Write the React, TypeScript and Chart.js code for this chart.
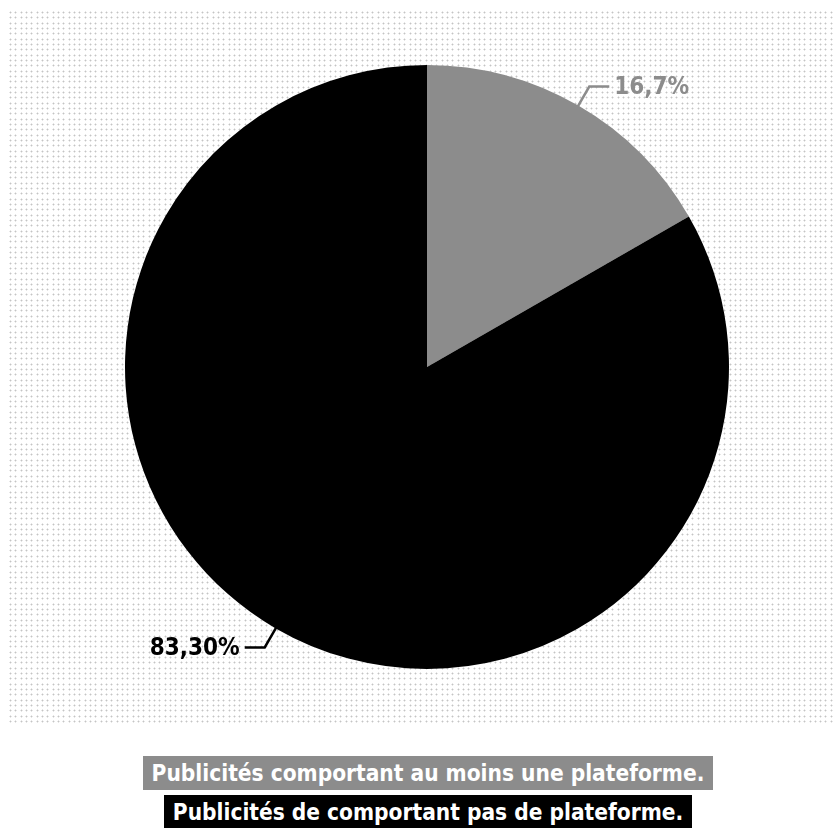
import React, { useEffect, useRef } from "react";
import { Chart, registerables } from "chart.js";

Chart.register(...registerables);

const categories = [
  "Publicités comportant au moins une plateforme.",
  "Publicités de comportant pas de plateforme.",
];
const values = [16.7, 83.3];
const valueLabels = ["16,7%", "83,30%"];
const colors = ["#8c8c8c", "#000000"];

const FONT = '"DejaVu Sans Condensed", "Liberation Sans Narrow", sans-serif';

const bgPlugin = {
  id: "dotsBg",
  beforeDraw(chart: any) {
    const ctx = chart.ctx;
    ctx.save();
    ctx.fillStyle = "#ffffff";
    ctx.fillRect(0, 0, chart.width, chart.height);
    const step = 5.33;
    for (let y = 12; y < 725; y += step) {
      for (let x = 10; x < 834; x += step) {
        const rx = Math.round(x);
        const ry = Math.round(y);
        ctx.fillStyle = "#e6e6e6";
        ctx.fillRect(rx - 1, ry, 3, 1);
        ctx.fillRect(rx, ry - 1, 1, 3);
        ctx.fillStyle = "#c4c4c4";
        ctx.fillRect(rx, ry, 1, 1);
      }
    }
    ctx.restore();
  },
};

const labelPlugin = {
  id: "leaderLabels",
  afterDatasetsDraw(chart: any) {
    const ctx = chart.ctx;
    const meta = chart.getDatasetMeta(0);
    ctx.save();
    meta.data.forEach((arc: any, i: number) => {
      const { x, y, startAngle, endAngle, outerRadius } = arc.getProps(
        ["x", "y", "startAngle", "endAngle", "outerRadius"],
        true
      );
      const mid = (startAngle + endAngle) / 2;
      const cos = Math.cos(mid);
      const sin = Math.sin(mid);
      const p0x = x + cos * (outerRadius - 2);
      const p0y = y + sin * (outerRadius - 2);
      const ext = 22;
      const p1x = x + cos * (outerRadius + ext);
      const p1y = y + sin * (outerRadius + ext);
      const right = cos >= 0;
      const p2x = p1x + (right ? 20 : -20);
      const color = colors[i];
      ctx.strokeStyle = color;
      ctx.lineWidth = 2.5;
      ctx.beginPath();
      ctx.moveTo(p0x, p0y);
      ctx.lineTo(p1x, p1y);
      ctx.lineTo(p2x, p1y);
      ctx.stroke();
      ctx.fillStyle = color;
      ctx.font = `bold 24px ${FONT}`;
      ctx.textBaseline = "middle";
      ctx.textAlign = right ? "left" : "right";
      ctx.fillText(valueLabels[i], p2x + (right ? 5 : -5), p1y + 1);
    });
    ctx.restore();
  },
};

export default function App() {
  const ref = useRef<HTMLCanvasElement | null>(null);
  useEffect(() => {
    if (!ref.current) return;
    const chart = new Chart(ref.current, {
      type: "pie",
      data: {
        labels: categories,
        datasets: [
          {
            data: values,
            backgroundColor: colors,
            borderWidth: 0,
          },
        ],
      },
      options: {
        animation: false,
        responsive: false,
        layout: { padding: { left: 125, right: 105, top: 65, bottom: 159 } },
        plugins: {
          legend: { display: false },
          tooltip: { enabled: false },
        },
      },
      plugins: [bgPlugin, labelPlugin],
    });
    return () => chart.destroy();
  }, []);

  const legendBoxes = [
    { top: 756, bg: colors[0] },
    { top: 795, bg: colors[1] },
  ];

  return (
    <div style={{ position: "absolute", left: 0, top: 0, width: 834, height: 828, overflow: "hidden" }}>
      <canvas ref={ref} width={834} height={828} style={{ display: "block" }} />
      {categories.map((c, i) => (
        <div
          key={c}
          style={{
            position: "absolute",
            top: legendBoxes[i].top,
            left: 0,
            width: 856,
            textAlign: "center",
          }}
        >
          <span
            style={{
              display: "inline-block",
              background: legendBoxes[i].bg,
              color: "#ffffff",
              fontFamily: FONT,
              fontWeight: "bold",
              fontSize: 22.5,
              lineHeight: "34px",
              padding: "0 9px",
            }}
          >
            {c}
          </span>
        </div>
      ))}
    </div>
  );
}
